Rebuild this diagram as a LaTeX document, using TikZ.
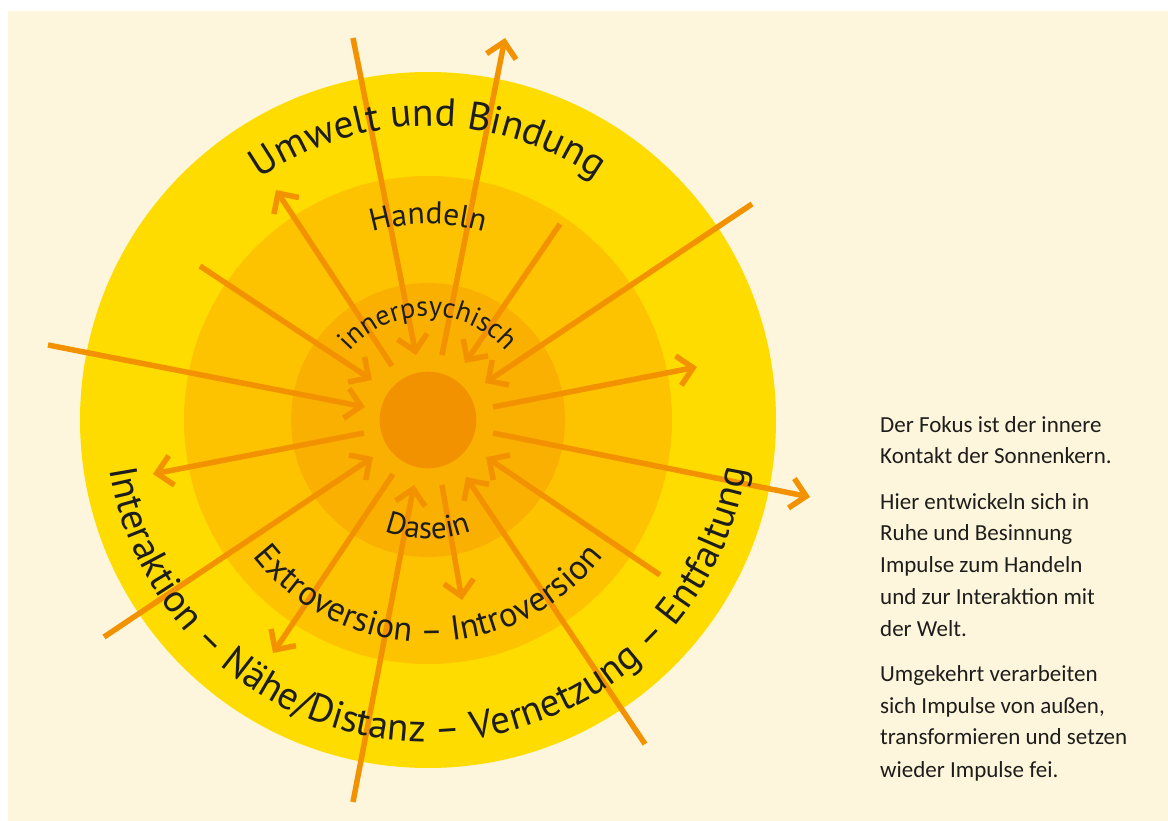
\documentclass[tikz,border=0pt]{standalone}
\usepackage{fontspec}
\setmainfont{PT Sans}
\newfontfamily\notefont{Carlito}
\usetikzlibrary{arrows.meta,decorations.text}

\definecolor{cream}{HTML}{FEF6DC}
\definecolor{sunA}{HTML}{FFDC00}
\definecolor{sunB}{HTML}{FDC300}
\definecolor{sunC}{HTML}{F9B000}
\definecolor{sunCore}{HTML}{F39200}
\definecolor{rayc}{HTML}{F39200}
\definecolor{ink}{HTML}{1D1D1B}

\begin{document}
\begin{tikzpicture}[
    x=1pt, y=-1pt,
    ray/.style={draw=rayc, line width=5.5pt, -{Straight Barb[length=15pt,width=30pt]}},
    arclabel/.style={decorate, decoration={text along path, text align=center, text={#1}}},
    note/.style={anchor=base west, inner sep=0pt, text=ink, font=\notefont\fontsize{23}{23}\selectfont}
]
    \useasboundingbox (0,0) rectangle (1168,821);
    \fill[white] (0,0) rectangle (1168,821);
    \fill[cream] (8,11) rectangle (1168,821);

    % the sun
    \coordinate (c) at (428,420);
    \fill[sunA] (c) circle[radius=348];
    \fill[sunB] (c) circle[radius=244];
    \fill[sunC] (c) circle[radius=137];
    \fill[sunCore] (c) circle[radius=48.3];

    % rays
    \foreach \xa/\ya/\xb/\yb [count=\i] in {
        353/38/416/355, 442/355/505/38, 392/366/276/190, 200/266/372/380,
        48/345/365/407, 364/433/153/474, 104/637/373/457, 393/474/273/653,
        353/802/414/485, 442/485/462/600, 645/744/466/477, 660/575/486/457,
        493/433/810/497, 493/407/697/367, 752/204/485/383, 560/224/465/363}
    {
        \coordinate (from\i) at (\xa,\ya);
        \coordinate (to\i) at (\xb,\yb);
        \draw[ray] (from\i) -- (to\i);
    }

    % ring labels
    \path[arclabel={|\color{ink}\fontsize{39.5}{39.5}\selectfont|Umwelt und Bindung}]
        (c) ++(-160:294) arc[start angle=-160, end angle=-20, radius=294];
    \path[arclabel={|\color{ink}\fontsize{31.5}{31.5}\selectfont|Handeln}]
        (c) ++(-130:196) arc[start angle=-130, end angle=-50, radius=196];
    \path[arclabel={|\color{ink}\fontsize{28}{28}\selectfont|innerpsychisch}]
        (c) ++(-170:104) arc[start angle=-170, end angle=-10, radius=104];
    \path[arclabel={|\color{ink}\fontsize{31}{31}\selectfont|Dasein}]
        (c) ++(-220:119) arc[start angle=-220, end angle=-320, radius=119];
    \path[arclabel={|\color{ink}\fontsize{34.5}{34.5}\selectfont|Extroversion – Introversion}]
        (c) ++(-185:222) arc[start angle=-185, end angle=-355, radius=222];
    \path[arclabel={|\color{ink}\fontsize{39}{39}\selectfont|Interaktion – Nähe/Distanz – Vernetzung – Entfaltung}]
        (c) ++(-170:322) arc[start angle=-170, end angle=-370, radius=322];

    % side text
    \foreach \yy/\txt [count=\i] in {
        432/{Der Fokus ist der innere}, 463/{Kontakt der Sonnenkern.},
        509/{Hier entwickeln sich in}, 540/{Ruhe und Besinnung},
        572/{Impulse zum Handeln}, 604/{und zur Interaktion mit},
        636/{der Welt.},
        681/{Umgekehrt verarbeiten}, 713/{sich Impulse von außen,},
        744/{transformieren und setzen}, 777/{wieder Impulse fei.}}
        \node[note] (line\i) at (880,\yy) {\txt};
\end{tikzpicture}
\end{document}
